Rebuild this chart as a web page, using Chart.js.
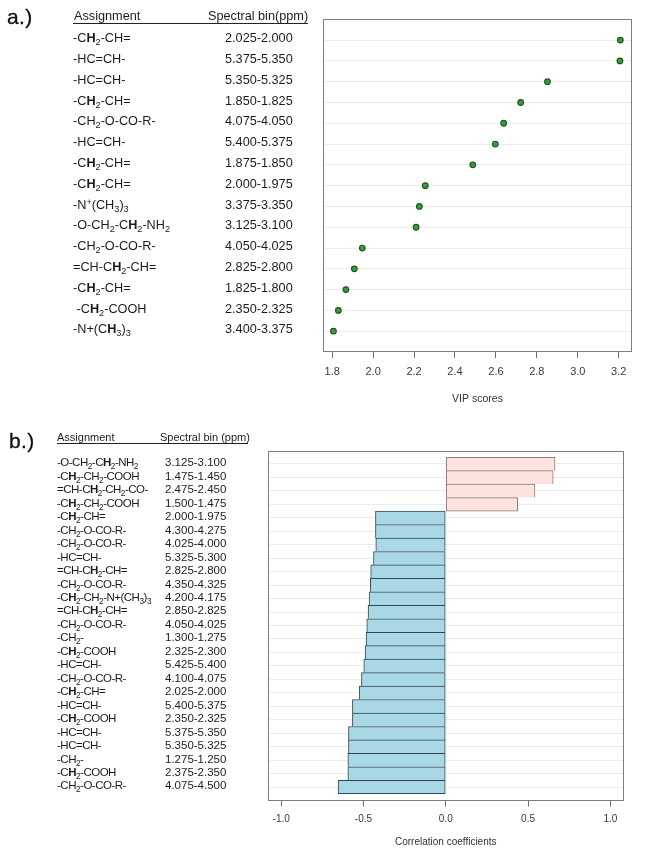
<!DOCTYPE html>
<html><head><meta charset="utf-8">
<script src="https://cdn.jsdelivr.net/npm/chart.js@4.4.1/dist/chart.umd.min.js"></script>
<style>
html,body{margin:0;padding:0;background:#fff;}
#wrap{position:relative;width:649px;height:858px;overflow:hidden;font-family:"Liberation Sans",Arial,Helvetica,sans-serif;color:#1c1c1c;}
canvas{position:absolute;left:0;}
.lbl{position:absolute;white-space:nowrap;}
.a{font-size:12.7px;line-height:16px;}
.b{font-size:11.5px;line-height:14px;}
.bf{letter-spacing:-0.5px;}
sub{font-size:0.72em;vertical-align:-0.32em;line-height:0;}
sup{font-size:0.72em;vertical-align:0.45em;line-height:0;}
.hdr{position:absolute;border-bottom:1px solid #222;}
.hdr span{position:absolute;top:0;white-space:nowrap;}
.panel{position:absolute;font-size:21px;letter-spacing:0.4px;color:#111;-webkit-text-stroke:0.3px #111;}
</style></head>
<body><div id="wrap">
<canvas id="ca" width="649" height="420" style="top:0"></canvas>
<canvas id="cb" width="649" height="438" style="top:420px"></canvas>
<div class="panel" style="left:7px;top:5px;">a.)</div>
<div class="panel" style="left:9px;top:429px;">b.)</div>
<div class="hdr a" style="left:73px;top:9px;width:235px;height:14px;line-height:14px;"><span style="left:1px">Assignment</span><span style="left:135px">Spectral bin(ppm)</span></div>
<div class="hdr b" style="left:57px;top:431px;width:191px;height:12px;line-height:12px;font-size:11px;"><span style="left:0">Assignment</span><span style="left:103px">Spectral bin (ppm)</span></div>
</div>
<script>
// ---------- Panel a: VIP scores ----------
const assignA = [
  "-C<b>H</b><sub>2</sub>-CH=",
  "-HC=CH-",
  "-HC=CH-",
  "-C<b>H</b><sub>2</sub>-CH=",
  "-CH<sub>2</sub>-O-CO-R-",
  "-HC=CH-",
  "-C<b>H</b><sub>2</sub>-CH=",
  "-C<b>H</b><sub>2</sub>-CH=",
  "-N<sup>+</sup>(CH<sub>3</sub>)<sub>3</sub>",
  "-O-CH<sub>2</sub>-C<b>H</b><sub>2</sub>-NH<sub>2</sub>",
  "-CH<sub>2</sub>-O-CO-R-",
  "=CH-C<b>H</b><sub>2</sub>-CH=",
  "-C<b>H</b><sub>2</sub>-CH=",
  "\u00a0-C<b>H</b><sub>2</sub>-COOH",
  "-N+(C<b>H</b><sub>3</sub>)<sub>3</sub>"
];
const binsA = ["2.025-2.000","5.375-5.350","5.350-5.325","1.850-1.825","4.075-4.050","5.400-5.375","1.875-1.850","2.000-1.975","3.375-3.350","3.125-3.100","4.050-4.025","2.825-2.800","1.825-1.800","2.350-2.325","3.400-3.375"];
const vipA = [3.208, 3.206, 2.852, 2.721, 2.638, 2.597, 2.487, 2.255, 2.226, 2.210, 1.947, 1.908, 1.867, 1.830, 1.806];
const vipTicks = [1.8, 2.0, 2.2, 2.4, 2.6, 2.8, 3.0, 3.2];
const vipTitle = "VIP scores";

// ---------- Panel b: correlation coefficients ----------
const assignB = [
  "-O-CH<sub>2</sub>-C<b>H</b><sub>2</sub>-NH<sub>2</sub>",
  "-C<b>H</b><sub>2</sub>-CH<sub>2</sub>-COOH",
  "=CH-C<b>H</b><sub>2</sub>-CH<sub>2</sub>-CO-",
  "-C<b>H</b><sub>2</sub>-CH<sub>2</sub>-COOH",
  "-C<b>H</b><sub>2</sub>-CH=",
  "-CH<sub>2</sub>-O-CO-R-",
  "-CH<sub>2</sub>-O-CO-R-",
  "-HC=CH-",
  "=CH-C<b>H</b><sub>2</sub>-CH=",
  "-CH<sub>2</sub>-O-CO-R-",
  "-C<b>H</b><sub>2</sub>-CH<sub>2</sub>-N+(CH<sub>3</sub>)<sub>3</sub>",
  "=CH-C<b>H</b><sub>2</sub>-CH=",
  "-CH<sub>2</sub>-O-CO-R-",
  "-CH<sub>2</sub>-",
  "-C<b>H</b><sub>2</sub>-COOH",
  "-HC=CH-",
  "-CH<sub>2</sub>-O-CO-R-",
  "-C<b>H</b><sub>2</sub>-CH=",
  "-HC=CH-",
  "-C<b>H</b><sub>2</sub>-COOH",
  "-HC=CH-",
  "-HC=CH-",
  "-CH<sub>2</sub>-",
  "-C<b>H</b><sub>2</sub>-COOH",
  "-CH<sub>2</sub>-O-CO-R-"
];
const binsB = ["3.125-3.100","1.475-1.450","2.475-2.450","1.500-1.475","2.000-1.975","4.300-4.275","4.025-4.000","5.325-5.300","2.825-2.800","4.350-4.325","4.200-4.175","2.850-2.825","4.050-4.025","1.300-1.275","2.325-2.300","5.425-5.400","4.100-4.075","2.025-2.000","5.400-5.375","2.350-2.325","5.375-5.350","5.350-5.325","1.275-1.250","2.375-2.350","4.075-4.500"];
const corrB = [0.664, 0.653, 0.542, 0.437, -0.427, -0.427, -0.425, -0.439, -0.456, -0.458, -0.466, -0.472, -0.480, -0.484, -0.490, -0.498, -0.512, -0.526, -0.567, -0.567, -0.591, -0.591, -0.595, -0.595, -0.654];
const corrTicks = [-1.0, -0.5, 0.0, 0.5, 1.0];
const corrTitle = "Correlation coefficients";

const FONT = '"Liberation Sans", Arial, sans-serif';
const boxPlugin = {
  id: 'box',
  afterDraw(chart) {
    const {ctx, chartArea: a} = chart;
    ctx.save();
    ctx.strokeStyle = '#7d7d7d';
    ctx.lineWidth = 1;
    ctx.strokeRect(Math.round(a.left) + 0.5, Math.round(a.top) + 0.5, Math.round(a.right - a.left) - 1, Math.round(a.bottom - a.top) - 1);
    ctx.restore();
  }
};

function rowAxis(n) {
  return {
    type: 'linear', min: 0, max: n + 1, reverse: true, offset: false,
    afterBuildTicks: s => { s.ticks = Array.from({length: n}, (_, i) => ({value: i + 1})); },
    afterFit: s => { s.width = 0; },
    ticks: {display: false},
    border: {display: false},
    grid: {color: '#ececec', lineWidth: 1, drawTicks: false, offset: false}
  };
}
function valueAxis(min, max, ticks, title, tickFont, tickPad, titleFont, titlePad, height) {
  return {
    type: 'linear', min, max, offset: false,
    afterBuildTicks: s => { s.ticks = ticks.map(v => ({value: v})); },
    afterFit: s => { s.height = height; },
    border: {display: false},
    grid: {drawOnChartArea: false, drawTicks: true, tickLength: 6, tickColor: '#6e6e6e', lineWidth: 1, offset: false},
    ticks: {color: '#3a3a3a', font: {family: FONT, size: tickFont}, padding: tickPad, maxRotation: 0,
            callback: v => Number(v).toFixed(1)},
    title: {display: true, text: title, color: '#333', font: {family: FONT, size: titleFont}, padding: {top: 0, bottom: titlePad}}
  };
}

const common = {
  responsive: false, animation: false, devicePixelRatio: 1,
  plugins: {legend: {display: false}, tooltip: {enabled: false}}
};

const chartA = new Chart(document.getElementById('ca'), {
  type: 'scatter',
  data: {datasets: [{
    data: vipA.map((v, i) => ({x: v, y: i + 1})),
    pointRadius: 2.8, pointBackgroundColor: '#3f9a3f', pointBorderColor: '#1d5a1d', pointBorderWidth: 1.2
  }]},
  options: Object.assign({}, common, {
    layout: {padding: {left: 323, right: 17, top: 19.3, bottom: 0}},
    scales: {
      x: valueAxis(1.755, 3.265, vipTicks, vipTitle, 11, 7, 10.5, 15, 68),
      y: rowAxis(vipA.length)
    }
  }),
  plugins: [boxPlugin]
});

const chartB = new Chart(document.getElementById('cb'), {
  type: 'bar',
  data: {datasets: [{
    data: corrB.map((v, i) => ({x: v, y: i + 1})),
    backgroundColor: corrB.map(v => v > 0 ? '#fde2dd' : '#a8d7e5'),
    borderColor: corrB.map(v => v > 0 ? '#8e7a78' : '#34474e'),
    borderWidth: ctx => {
      const i = ctx.dataIndex, n = corrB.length;
      const last = i === n - 1 || Math.sign(corrB[i + 1]) !== Math.sign(corrB[i]);
      return {top: 1, left: 1, right: 1, bottom: last ? 1 : 0};
    },
    borderSkipped: false,
    barPercentage: 1, categoryPercentage: 1
  }]},
  options: Object.assign({}, common, {
    indexAxis: 'y',
    layout: {padding: {left: 268, right: 25.5, top: 30.5, bottom: 0}},
    scales: {
      x: valueAxis(-1.08, 1.08, corrTicks, corrTitle, 10, 7, 10, 10, 57.5),
      y: rowAxis(corrB.length)
    }
  }),
  plugins: [boxPlugin]
});

// ---------- row label tables (rich text with sub/superscripts) ----------
const wrap = document.getElementById('wrap');
function addRows(chart, canvasTop, assign, bins, cls, xA, xB, dy, fcls) {
  const ys = chart.scales.y;
  assign.forEach((txt, i) => {
    const y = ys.getPixelForValue(i + 1) + canvasTop + dy;
    const d1 = document.createElement('div');
    d1.className = 'lbl ' + cls + (fcls ? ' ' + fcls : '');
    d1.style.left = xA + 'px'; d1.style.top = y + 'px';
    d1.innerHTML = txt;
    const d2 = document.createElement('div');
    d2.className = 'lbl ' + cls;
    d2.style.left = xB + 'px'; d2.style.top = y + 'px';
    d2.textContent = bins[i];
    wrap.appendChild(d1); wrap.appendChild(d2);
  });
}
addRows(chartA, 0, assignA, binsA, 'a', 73, 225, -9.9, '');
addRows(chartB, 420, assignB, binsB, 'b', 57, 165, -8.6, 'bf');
</script>
</body></html>
